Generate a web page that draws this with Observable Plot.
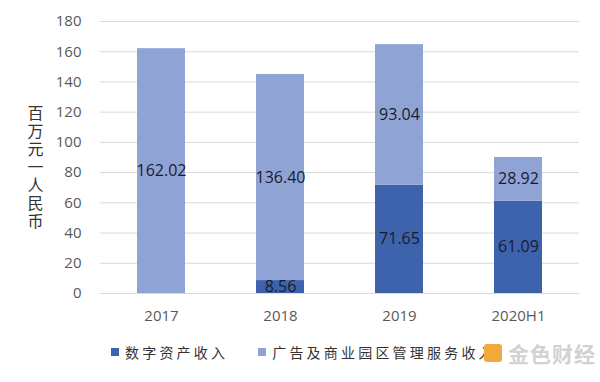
<!DOCTYPE html>
<html>
<head>
<meta charset="utf-8">
<script src="https://cdn.jsdelivr.net/npm/d3@7"></script>
<script src="https://cdn.jsdelivr.net/npm/@observablehq/plot@0.6"></script>
<style>
  body { margin: 0; background: #fff; }
  #wrap { position: relative; width: 600px; height: 382px; overflow: hidden; font-family: "Open Sans", "Noto Sans", sans-serif; }
  #legend { position: absolute; left: 111px; top: 342px; display: flex; align-items: center; font-family: "Noto Sans CJK SC", sans-serif; font-size: 14px; color: #333; letter-spacing: 3.2px; }
  .sw { display: inline-block; width: 8px; height: 8px; margin-right: 6px; }
  .item { display: flex; align-items: center; margin-right: 30px; }
  #wm { position: absolute; left: 484px; top: 338px; display: flex; align-items: center; }
  #wm .txt { font-family: "Noto Sans CJK SC", sans-serif; font-size: 21px; color: #d2d2d2; margin-left: 6px; font-weight: bold; letter-spacing: 1px; }
  #wm .ic { width: 18px; height: 18px; border-radius: 3px; background: #f2a93b; }
  .vlabel { writing-mode: vertical-rl; text-orientation: upright; letter-spacing: 2px; }
</style>
</head>
<body>
<div id="wrap">
  <div id="chart"></div>
  <div id="legend"></div>
  <div id="wm"><div class="ic"></div><div class="txt">金色财经</div></div>
</div>
<script>
const years = ["2017", "2018", "2019", "2020H1"];
const seriesNames = ["数字资产收入", "广告及商业园区管理服务收入"];
const digital = [0, 8.56, 71.65, 61.09];
const ads = [162.02, 136.40, 93.04, 28.92];
const yTicks = [0, 20, 40, 60, 80, 100, 120, 140, 160, 180];
const yLabel = "百万元一人民币";
const colors = ["#3e63ad", "#8fa4d5"];

const data = [];
years.forEach((yr, i) => {
  data.push({year: yr, series: seriesNames[0], value: digital[i]});
  data.push({year: yr, series: seriesNames[1], value: ads[i]});
});

const fmt = d3.format(".2f");

const chart = Plot.plot({
  width: 600,
  height: 332,
  marginTop: 21,
  marginBottom: 39,
  marginLeft: 100,
  marginRight: 21,
  style: {fontFamily: "'Open Sans', 'Noto Sans', sans-serif", background: "#fff"},
  x: {domain: years, paddingInner: 0.6, paddingOuter: 0.3, label: null},
  y: {domain: [0, 180], label: null},
  color: {domain: seriesNames, range: colors},
  marks: [
    Plot.gridY(yTicks, {stroke: "#d9d9d9", strokeOpacity: 1, strokeWidth: 1}),
    Plot.axisY(yTicks, {tickSize: 0, tickPadding: 19, fontSize: 15, fill: "#595959", label: null}),
    Plot.axisX({tickSize: 0, tickPadding: 17, fontSize: 15, fill: "#595959", label: null}),
    Plot.barY(data, Plot.stackY({x: "year", y: "value", fill: "series", order: seriesNames})),
    Plot.text(data, Plot.stackY({
      x: "year", y: "value", z: "series", order: seriesNames,
      text: d => d.value > 0 ? fmt(d.value) : "",
      fill: "#1a1a2e", fontSize: 16
    })),
    Plot.text([yLabel], {
      text: d => d,
      frameAnchor: "left", textAnchor: "middle", dx: -65, dy: 5,
      fontSize: 16, fill: "#333",
      fontFamily: "'Noto Sans CJK SC', sans-serif",
      className: "vlabel"
    })
  ]
});
document.getElementById("chart").appendChild(chart);

const legend = document.getElementById("legend");
seriesNames.forEach((name, i) => {
  const item = document.createElement("div");
  item.className = "item";
  const sw = document.createElement("span");
  sw.className = "sw";
  sw.style.background = colors[i];
  item.appendChild(sw);
  const t = document.createElement("span");
  t.textContent = name;
  item.appendChild(t);
  legend.appendChild(item);
});
</script>
</body>
</html>
